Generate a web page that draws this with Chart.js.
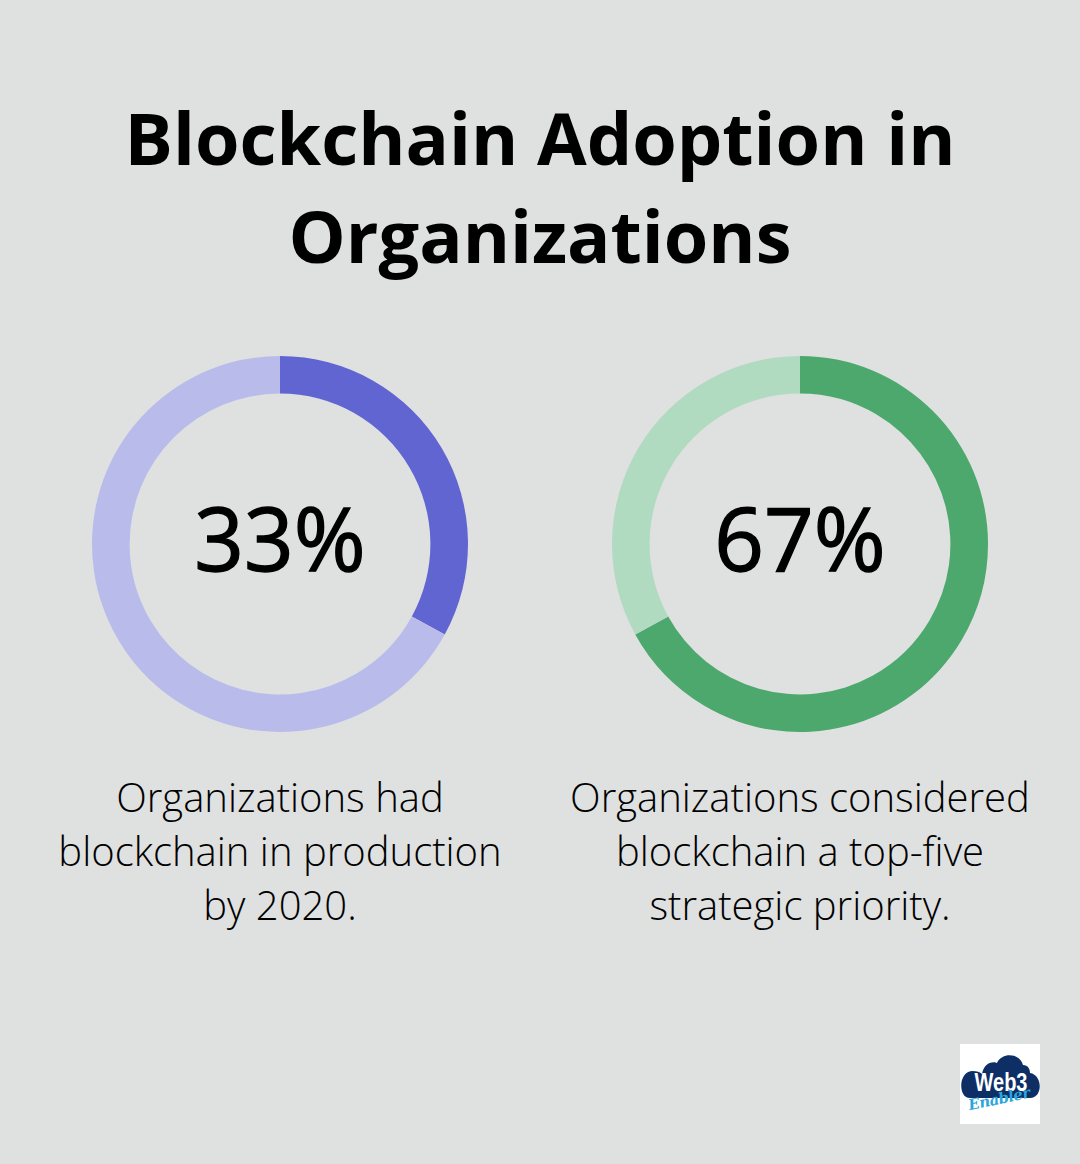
<!DOCTYPE html>
<html>
<head>
<meta charset="utf-8">
<style>
html, body { margin: 0; padding: 0; }
body { width: 1080px; height: 1164px; background: #dfe1e0; position: relative; overflow: hidden; font-family: "Open Sans", sans-serif; color: #000; }
h1 { position: absolute; left: 0; top: 88px; width: 1080px; margin: 0; text-align: center; font-size: 72px; line-height: 98px; font-weight: 700; }
.ring { position: absolute; top: 350px; width: 388px; height: 388px; }
.pct { position: absolute; top: 482px; width: 388px; text-align: center; font-size: 87px; line-height: 110px; font-weight: 400; -webkit-text-stroke: 1.3px #000; }
.cap { position: absolute; top: 770px; width: 520px; text-align: center; font-size: 40px; line-height: 54px; font-weight: 300; }
.logo { position: absolute; left: 960px; top: 1044px; width: 80px; height: 80px; background: #fff; overflow: hidden; }
.logo svg { position: absolute; left: 0; top: 0; }
.logo b { position: absolute; left: 0; top: 25px; width: 82px; text-align: center; font: 700 25px/26px "Liberation Sans", sans-serif; color: #fff; transform: scaleX(0.8); }
.logo i { position: absolute; left: 6px; top: 45px; width: 66px; text-align: center; font: italic 700 15px/20px "DejaVu Serif", serif; color: #2aa6dc; letter-spacing: -0.5px; transform: rotate(-12deg); }
</style>
</head>
<body>
<h1>Blockchain Adoption in<br>Organizations</h1>

<div class="ring" style="left:86px"><canvas id="ring1"></canvas></div>
<div class="ring" style="left:606px"><canvas id="ring2"></canvas></div>
<div class="pct" style="left:86px" id="pct1"></div>
<div class="pct" style="left:606px" id="pct2"></div>
<div class="cap" style="left:20px">Organizations had<br>blockchain in production<br>by 2020.</div>
<div class="cap" style="left:540px">Organizations considered<br>blockchain a top-five<br>strategic priority.</div>

<div class="logo">
  <svg width="80" height="80"><path fill="#0d2f66" d="M10 54 C-2 54 -2 28 12 27 C17 27 20 28 22 30 C24 18 34 17 37 19 C42 8 60 9 63 21 C68 21 70 25 70 29 C83 31 83 54 70 54 Z"/></svg>
  <b>Web3</b>
  <i>Enabler</i>
</div>

<script src="https://cdn.jsdelivr.net/npm/chart.js@4"></script>
<script>
const categories = ["Share", "Rest"];
const productionValues = [33, 67];
const priorityValues = [67, 33];
const productionColors = ["#6065d2", "#b9bceb"];
const priorityColors = ["#4ca86c", "#b0dbc0"];

function drawRing(id, pctId, values, colors) {
    document.getElementById(pctId).textContent = values[0] + "%";
    new Chart(document.getElementById(id), {
        type: "doughnut",
        data: {
            labels: categories,
            datasets: [{
                data: values,
                backgroundColor: colors,
                borderWidth: 0
            }]
        },
        options: {
            responsive: true,
            maintainAspectRatio: false,
            animation: false,
            cutout: "80%",
            layout: { padding: 6 },
            plugins: {
                legend: { display: false },
                tooltip: { enabled: false }
            }
        }
    });
}

drawRing("ring1", "pct1", productionValues, productionColors);
drawRing("ring2", "pct2", priorityValues, priorityColors);
</script>
</body>
</html>
